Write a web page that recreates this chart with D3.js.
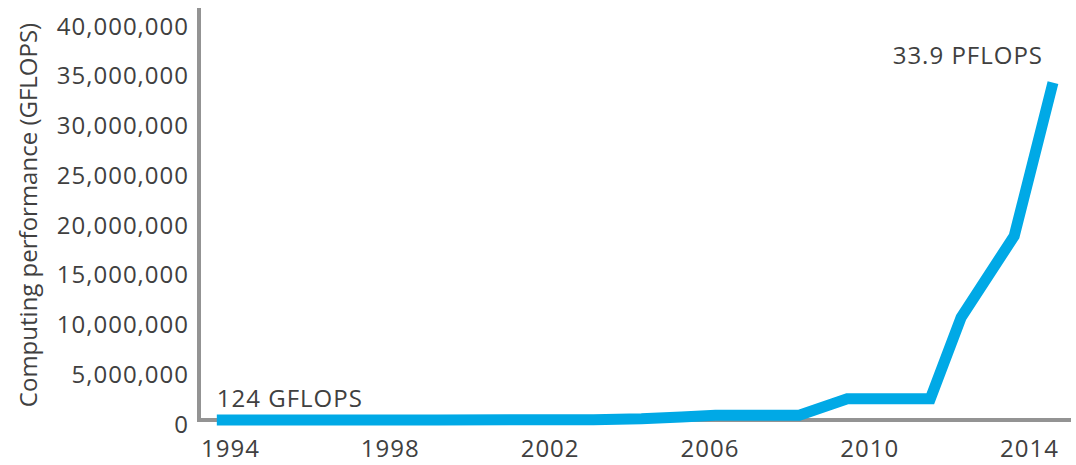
<!DOCTYPE html>
<html>
<head>
<meta charset="utf-8">
<script src="https://cdn.jsdelivr.net/npm/d3@7"></script>
<style>
  html, body { margin: 0; padding: 0; background: #ffffff; }
  svg { display: block; }
  .lbl { font-family: "Open Sans", "Noto Sans", sans-serif; font-size: 24px; fill: #404040; letter-spacing: 1px; }
  .title { font-family: "Open Sans", "Noto Sans", sans-serif; font-size: 24px; fill: #404040; }
</style>
</head>
<body>
<script>
// Peak supercomputer performance over time, in GFLOPS
const years  = [1993.67, 1997.0, 1999.2, 2003.1, 2004.3, 2005.3, 2006.15, 2008.25, 2009.45, 2011.53, 2012.3, 2013.63, 2014.6];
const gflops = [124, 1068, 2380, 35860, 120000, 300000, 470000, 470000, 2130000, 2130000, 10300000, 18500000, 33900000];

const yearTicks = [1994, 1998, 2002, 2006, 2010, 2014];
const valueTicks = [0, 5000000, 10000000, 15000000, 20000000, 25000000, 30000000, 35000000, 40000000];

const startLabel = "124 GFLOPS";
const endLabel = "33.9 PFLOPS";
const yTitle = "Computing performance (GFLOPS)";

const W = 1076, H = 465;
const svg = d3.select("body").append("svg").attr("width", W).attr("height", H);

const x = d3.scaleLinear().domain([1994, 2014]).range([230, 1029]);
const y = d3.scaleLinear().domain([0, 40000000]).range([420, 22]);

const axisColor = "#939393";
const lineColor = "#00a9e6";

// y tick labels
const yAxis = d3.axisLeft(y).tickValues(valueTicks).tickSize(0).tickPadding(0).tickFormat(d3.format(","));
const gy = svg.append("g").attr("transform", "translate(189,0)").call(yAxis);
gy.select(".domain").remove();
gy.selectAll("text").attr("class", "lbl").attr("dy", "0.5em").attr("font-size", null).attr("font-family", null).attr("fill", null);

// x tick labels
const xAxis = d3.axisBottom(x).tickValues(yearTicks).tickSize(0).tickPadding(0).tickFormat(d3.format("d"));
const gx = svg.append("g").attr("transform", "translate(0,440)").call(xAxis);
gx.select(".domain").remove();
gx.selectAll("text").attr("class", "lbl").attr("dy", "0.72em").attr("font-size", null).attr("font-family", null).attr("fill", null);

// L-shaped axis lines
svg.append("line").attr("x1", 199).attr("x2", 199).attr("y1", 8).attr("y2", 422)
  .attr("stroke", axisColor).attr("stroke-width", 4);
svg.append("line").attr("x1", 197).attr("x2", 1071).attr("y1", y(0)).attr("y2", y(0))
  .attr("stroke", axisColor).attr("stroke-width", 4);

// performance line
const pts = years.map((yr, i) => [yr, gflops[i]]);
const line = d3.line().x(d => x(d[0])).y(d => y(d[1]));
svg.append("path").datum(pts).attr("d", line)
  .attr("fill", "none").attr("stroke", lineColor).attr("stroke-width", 11)
  .attr("stroke-linejoin", "miter").attr("stroke-linecap", "butt");

// annotations at the first and last values
svg.append("text").attr("class", "lbl").attr("x", x(years[0])).attr("y", 407).text(startLabel);
svg.append("text").attr("class", "lbl").attr("x", 1043).attr("y", 64).attr("text-anchor", "end").text(endLabel);

// y axis title
svg.append("text").attr("class", "title")
  .attr("transform", "translate(37,215) rotate(-90)")
  .attr("text-anchor", "middle").text(yTitle);
</script>
</body>
</html>
